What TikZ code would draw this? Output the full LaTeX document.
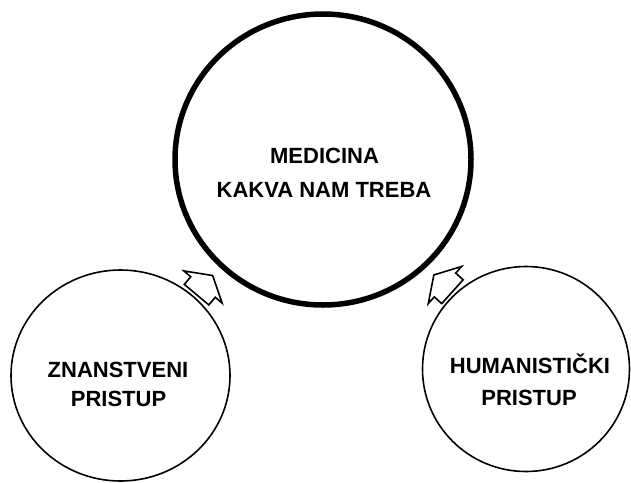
\documentclass[tikz,border=0pt]{standalone}
\usepackage{fontspec}
\setmainfont{Liberation Sans}
\usetikzlibrary{shapes.geometric}
\begin{document}
\begin{tikzpicture}[x=1pt,y=-1pt]
\tikzset{
  bigring/.style={ellipse, draw, line width=5.5pt, inner sep=0pt, minimum width=296pt, minimum height=291pt},
  ring/.style={ellipse, draw, line width=1.6pt, inner sep=0pt},
  lbl/.style={font=\bfseries\fontsize{22}{26}\selectfont, anchor=base, inner sep=0pt},
  blockarrow/.pic={\draw[line width=1.6pt, line join=miter, fill=white]
     (15,0) -- (0,25) -- (0,16) -- (-10,16) -- (-10,-16) -- (0,-16) -- (0,-25) -- cycle;}
}
\fill[white] (0,0) rectangle (631,482);
\useasboundingbox (0,0) rectangle (631,482);

\node[bigring] (med) at (323,159.5) {};
\node[ring, minimum width=219pt, minimum height=211pt] (zp) at (120.5,375.5) {};
\node[ring, minimum width=207pt, minimum height=205pt] (hp) at (526,369) {};

\node[lbl] (medA) at (324.5,163.3) {MEDICINA};
\node[lbl] (medB) at (324,197.7) {KAKVA NAM TREBA};
\node[lbl] (zpA) at (118,377.7) {ZNANSTVENI};
\node[lbl] (zpB) at (118.5,406.7) {PRISTUP};
\node[lbl] (hpA) at (530,373.3) {HUMANISTIČKI};
\node[lbl] (hpB) at (529,405) {PRISTUP};

\pic[rotate=50] at (203,287) {blockarrow};
\pic[rotate=138] at (445,285) {blockarrow};
\end{tikzpicture}
\end{document}
